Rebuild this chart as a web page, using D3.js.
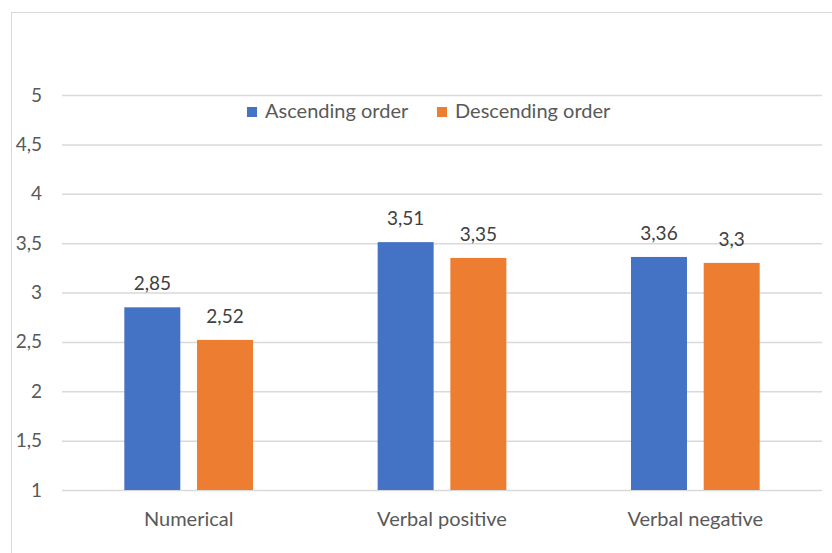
<!DOCTYPE html>
<html>
<head>
<meta charset="utf-8">
<script src="https://cdn.jsdelivr.net/npm/d3@7"></script>
<style>
  html, body { margin: 0; padding: 0; background: #fff; }
  svg { display: block; font-family: Lato, "Open Sans", sans-serif; }
</style>
</head>
<body>
<svg id="chart" width="832" height="553"></svg>
<script>
const categories = ["Numerical", "Verbal positive", "Verbal negative"];
const seriesNames = ["Ascending order", "Descending order"];
const ascending = [2.85, 3.51, 3.36];
const descending = [2.52, 3.35, 3.3];
const yTicks = [1, 1.5, 2, 2.5, 3, 3.5, 4, 4.5, 5];
const colors = ["#4472C4", "#ED7D31"];

const svg = d3.select("#chart");
const W = 832, H = 553;
const plot = { left: 62, right: 822, top: 95, bottom: 490 };

const fmt = v => String(v).replace(".", ",");

// outer chart frame
svg.append("rect")
  .attr("x", 11.5).attr("y", 12.5)
  .attr("width", W + 10).attr("height", H + 10)
  .attr("fill", "#fff").attr("stroke", "#d9d9d9").attr("stroke-width", 1);

const x = d3.scaleBand().domain(categories).range([plot.left, plot.right]).paddingInner(0).paddingOuter(0);
const y = d3.scaleLinear().domain([1, 5]).range([plot.bottom, plot.top]);

// horizontal gridlines and value-axis labels
const yAxis = d3.axisLeft(y).tickValues(yTicks).tickFormat(fmt)
  .tickSize(-(plot.right - plot.left)).tickPadding(20);
const gy = svg.append("g").attr("transform", `translate(${plot.left},0)`).call(yAxis);
gy.select(".domain").remove();
gy.selectAll(".tick line").attr("stroke", "#d9d9d9").attr("stroke-width", 1.5);
gy.selectAll(".tick text").attr("fill", "#595959").style("font-size", "19px")
  .attr("font-family", "Lato, sans-serif");

// bars with their value labels
const data = [ascending, descending];
const bw = x.bandwidth() * 0.221;
const gap = x.bandwidth() * 0.066;
const offsets = [-(gap / 2 + bw), gap / 2];

const groups = svg.append("g").selectAll("g").data(seriesNames).join("g")
  .attr("fill", (d, i) => colors[i]);

groups.each(function (name, si) {
  const g = d3.select(this);
  const vals = data[si];
  g.selectAll("rect").data(categories).join("rect")
    .attr("x", (c) => x(c) + x.bandwidth() / 2 + offsets[si])
    .attr("width", bw)
    .attr("y", (c, i) => y(vals[i]))
    .attr("height", (c, i) => y(1) - y(vals[i]));
  g.selectAll("text").data(categories).join("text")
    .attr("x", (c) => x(c) + x.bandwidth() / 2 + offsets[si] + bw / 2)
    .attr("y", (c, i) => y(vals[i]) - 17)
    .attr("text-anchor", "middle")
    .attr("fill", "#404040")
    .style("font-size", "19px")
    .text((c, i) => fmt(vals[i]));
});

// category axis labels
const xAxis = d3.axisBottom(x).tickSize(0).tickPadding(22);
const gx = svg.append("g").attr("transform", `translate(0,${plot.bottom})`).call(xAxis);
gx.select(".domain").remove();
gx.selectAll(".tick text").attr("fill", "#595959").style("font-size", "20px")
  .attr("font-family", "Lato, sans-serif");

// legend
const legendPos = [247, 437];
const legend = svg.append("g").selectAll("g").data(seriesNames).join("g")
  .attr("transform", (d, i) => `translate(${legendPos[i]},107)`);
legend.append("rect").attr("width", 10).attr("height", 10).attr("fill", (d, i) => colors[i]);
legend.append("text").attr("x", 18).attr("y", 10.5)
  .attr("fill", "#595959").style("font-size", "20px").text(d => d);
</script>
</body>
</html>
